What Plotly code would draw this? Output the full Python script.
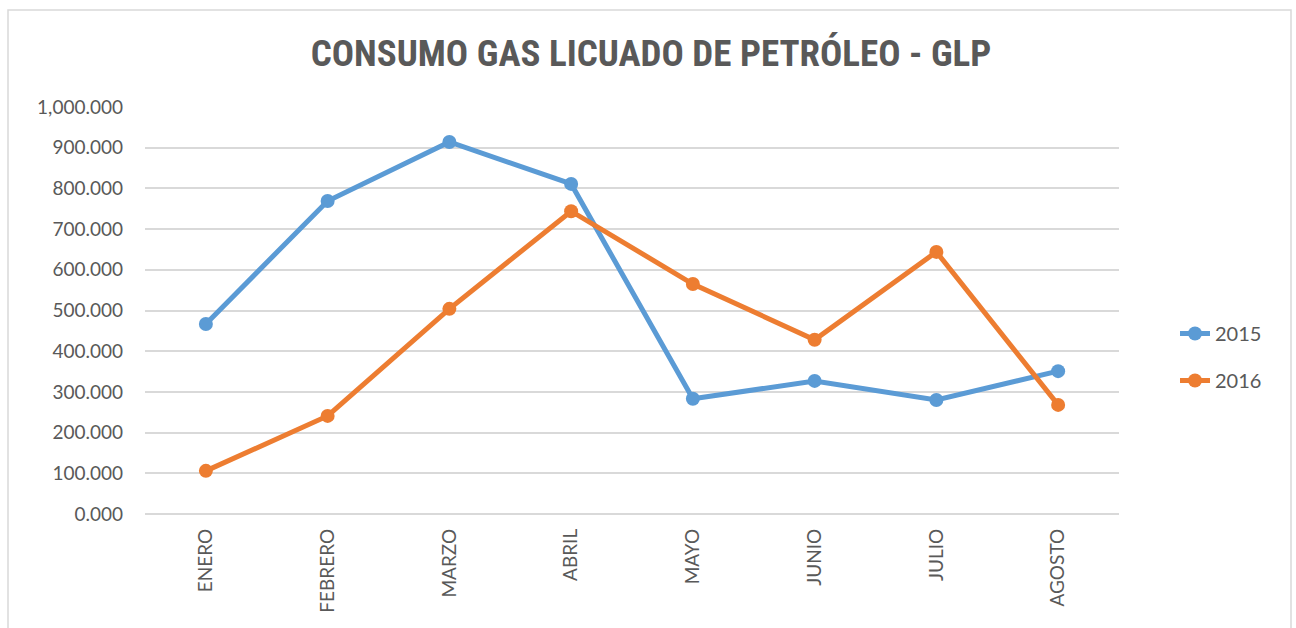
import plotly.graph_objects as go

months = ["ENERO", "FEBRERO", "MARZO", "ABRIL", "MAYO", "JUNIO", "JULIO", "AGOSTO"]
values_2015 = [467, 769, 914, 811, 283, 327, 280, 351]
values_2016 = [106, 241, 504, 744, 565, 428, 644, 268]

BLUE = "#5B9BD5"
ORANGE = "#ED7D31"
TXT = "#595959"
GRID = "#D9D9D9"

fig = go.Figure()
for name, vals, col in [("2015", values_2015, BLUE), ("2016", values_2016, ORANGE)]:
    fig.add_trace(go.Scatter(
        x=months, y=vals, name=name, mode="lines+markers", legendgroup=name,
        line=dict(color=col, width=5),
        marker=dict(color=col, size=14),
    ))

L, R, T, B = 145, 1296 - 1119, 107, 628 - 514
W = 1296 - L - R
H = 628 - T - B

fig.update_layout(
    width=1296, height=628,
    margin=dict(l=L, r=R, t=T, b=B),
    paper_bgcolor="white", plot_bgcolor="white",
    title=dict(text="<b>CONSUMO GAS LICUADO DE PETRÓLEO - GLP</b>",
               x=651 / 1296, xanchor="center", y=1 - 53 / 628, yanchor="middle",
               font=dict(family="Liberation Sans Narrow, Arial Narrow, Roboto Condensed, sans-serif",
                         size=37, color=TXT)),
    xaxis=dict(type="category", range=[-0.5, 7.5], tickangle=-90,
               showgrid=False, showline=False, zeroline=False,
               tickfont=dict(family="Lato, Open Sans, sans-serif", size=19, color=TXT),
               ticklabelstandoff=10),
    yaxis=dict(range=[0, 1000], dtick=100, tickformat=",.3f",
               showgrid=True, gridcolor=GRID, gridwidth=1.5,
               zeroline=True, zerolinecolor=GRID, zerolinewidth=1.5,
               showline=False,
               tickfont=dict(family="Lato, Open Sans, sans-serif", size=19, color=TXT),
               ticklabelstandoff=21),
    legend=dict(x=(1175 - L) / W, xanchor="left", y=(514 - 357) / H, yanchor="middle",
                font=dict(family="Lato, Open Sans, sans-serif", size=20, color=TXT),
                tracegroupgap=18, bgcolor="rgba(0,0,0,0)"),
    showlegend=True,
)

fig.add_shape(type="rect", xref="paper", yref="paper",
              x0=(8 - L) / W, x1=(1291 - L) / W,
              y0=(514 - 660) / H, y1=(514 - 10) / H,
              line=dict(color=GRID, width=1.5), fillcolor="rgba(0,0,0,0)", layer="below")

fig.write_html("out.html", config={"displayModeBar": False},
               post_script="document.body.style.margin='0';")
